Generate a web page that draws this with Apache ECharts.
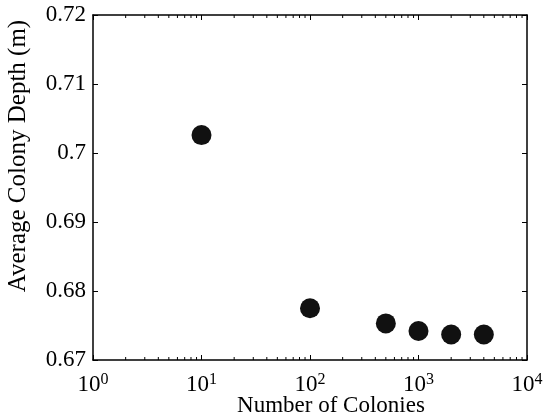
<!DOCTYPE html>
<html>
<head>
<meta charset="utf-8">
<script src="https://cdn.jsdelivr.net/npm/echarts@6/dist/echarts.min.js"></script>
<style>
html, body { margin: 0; padding: 0; background: #fff; }
#chart { width: 549px; height: 418px; }
</style>
</head>
<body>
<div id="chart"></div>
<script>
// colonies vs depth
var colonies = [10, 100, 500, 1000, 2000, 4000];
var depth = [0.7026, 0.6775, 0.6753, 0.6742, 0.6737, 0.6737];
var yTicks = [0.67, 0.68, 0.69, 0.7, 0.71, 0.72];
var minorX = [2, 3, 4, 5, 6, 7, 8, 9, 20, 30, 40, 50, 60, 70, 80, 90,
  200, 300, 400, 500, 600, 700, 800, 900, 2000, 3000, 4000, 5000, 6000, 7000, 8000, 9000];
var xTitle = 'Number of Colonies';
var yTitle = 'Average Colony Depth (m)';

var font = 'Liberation Serif';
var myChart = echarts.init(document.getElementById('chart'));

var pts = [];
for (var i = 0; i < colonies.length; i++) {
  pts.push([colonies[i], depth[i]]);
}
var minorPts = [];
for (var j = 0; j < minorX.length; j++) {
  minorPts.push([minorX[j]]);
}

var tickStyle = { show: true, inside: true, length: 5, lineStyle: { color: '#000', width: 1 } };

option = {
  animation: false,
  grid: { left: 93, right: 22, top: 15, bottom: 58 },
  graphic: [
    {
      type: 'text', x: 18, y: 156, rotation: Math.PI / 2,
      style: { text: yTitle, fontFamily: font, fontSize: 25, fill: '#000', align: 'center', verticalAlign: 'middle' }
    },
    {
      type: 'text', x: 331, y: 406,
      style: { text: xTitle, fontFamily: font, fontSize: 23, fill: '#000', align: 'center', verticalAlign: 'middle' }
    }
  ],
  xAxis: [
    {
      type: 'log', logBase: 10, min: 1, max: 10000,
      axisLine: { onZero: false, lineStyle: { color: '#000', width: 1.5 } },
      axisTick: tickStyle,
      splitLine: { show: false },
      axisLabel: {
        margin: 12,
        formatter: function (v) {
          return '10{s|' + Math.round(Math.log10(v)) + '}';
        },
        fontFamily: font, fontSize: 23, color: '#000',
        rich: { s: { fontFamily: font, fontSize: 16, color: '#000', verticalAlign: 'top', padding: [0, 0, 10, 0] } }
      }
    },
    {
      type: 'log', logBase: 10, min: 1, max: 10000, position: 'top',
      axisLine: { lineStyle: { color: '#000', width: 1.5 } },
      axisTick: tickStyle, axisLabel: { show: false }, splitLine: { show: false }
    }
  ],
  yAxis: [
    {
      type: 'value', min: 0.67, max: 0.72, interval: 0.01,
      axisLine: { show: true, lineStyle: { color: '#000', width: 1.5 } },
      axisTick: tickStyle,
      splitLine: { show: false },
      axisLabel: {
        margin: 7, fontFamily: font, fontSize: 23, color: '#000',
        formatter: function (v) {
          return yTicks.indexOf(+v.toFixed(2)) >= 0 ? String(+v.toFixed(2)) : '';
        }
      }
    },
    {
      type: 'value', min: 0.67, max: 0.72, interval: 0.01, position: 'right',
      axisLine: { show: true, lineStyle: { color: '#000', width: 1.5 } },
      axisTick: tickStyle, axisLabel: { show: false }, splitLine: { show: false }
    }
  ],
  series: [
    {
      type: 'scatter',
      data: pts,
      symbol: 'circle',
      symbolSize: 20,
      itemStyle: { color: '#111', opacity: 1 },
      z: 5
    },
    {
      // minor log ticks, bottom and top
      type: 'custom',
      data: minorPts,
      silent: true,
      renderItem: function (params, api) {
        var b = api.coord([api.value(0), 0.67]);
        var t = api.coord([api.value(0), 0.72]);
        return {
          type: 'group',
          children: [
            { type: 'line', shape: { x1: b[0], y1: b[1], x2: b[0], y2: b[1] - 3 }, style: { stroke: '#000', lineWidth: 1 } },
            { type: 'line', shape: { x1: t[0], y1: t[1], x2: t[0], y2: t[1] + 3 }, style: { stroke: '#000', lineWidth: 1 } }
          ]
        };
      },
      encode: { x: 0 }
    }
  ]
};

myChart.setOption(option);
window.onresize = myChart.resize;
</script>
</body>
</html>
